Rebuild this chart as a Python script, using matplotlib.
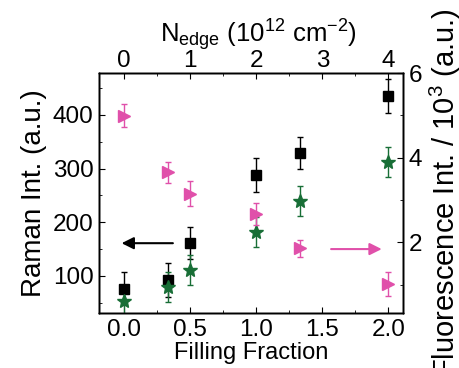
import matplotlib.pyplot as plt
from matplotlib.ticker import MultipleLocator

plt.rcParams['font.family'] = ['Liberation Sans', 'DejaVu Sans']
plt.rcParams['mathtext.fontset'] = 'custom'
plt.rcParams['mathtext.rm'] = 'Liberation Sans'
plt.rcParams['mathtext.it'] = 'Liberation Sans'

# filling fraction (bottom axis); N_edge = 2 * filling fraction
filling = [0.0, 0.333, 0.5, 1.0, 1.333, 2.0]

# Raman intensity (left axis)
raman = [76, 92, 161, 288, 329, 435]
raman_err = [31, 32, 30, 32, 30, 31]
raman2 = [53, 80, 111, 182, 240, 312]
raman2_err = [28, 28, 28, 28, 28, 28]

# fluorescence / 10^3 (right axis)
fluor = [4.99, 3.65, 3.15, 2.66, 1.86, 1.01]
fluor_err = [0.27, 0.25, 0.29, 0.26, 0.2, 0.28]

top_ticks = [0, 1, 2, 3, 4]

pink = '#E050AA'
green = '#186E36'

fig = plt.figure(figsize=(4.59, 3.68), dpi=100)
ax = fig.add_axes([0.2157, 0.1495, 0.6623, 0.6521])

ax.errorbar(filling, raman, yerr=raman_err, fmt='s', color='black', ms=7,
            capsize=2.5, elinewidth=1, capthick=1, zorder=3)
ax.errorbar(filling, raman2, yerr=raman2_err, fmt='*', color=green, ms=10,
            capsize=2.5, elinewidth=1, capthick=1, zorder=3)
ax.set_xlim(-0.19, 2.11)
ax.set_ylim(31, 478)
ax.set_yticks([100, 200, 300, 400])
ax.yaxis.set_minor_locator(MultipleLocator(50))
ax.set_xticks([0.0, 0.5, 1.0, 1.5, 2.0])
ax.xaxis.set_minor_locator(MultipleLocator(0.25))
ax.set_xlabel('Filling Fraction', fontsize=17, labelpad=1)
ax.set_ylabel('Raman Int. (a.u.)', fontsize=20, labelpad=4)
ax.tick_params(which='both', direction='in', labelsize=17.5)
ax.tick_params(which='major', length=4, pad=4)
ax.tick_params(which='minor', length=2)
ax.annotate('', xy=(-0.04, 161), xytext=(0.39, 161),
            arrowprops=dict(arrowstyle='-|>', color='black', lw=1.5,
                            mutation_scale=18))

ax2 = ax.twinx()
ax2.errorbar(filling, fluor, yerr=fluor_err, fmt='>', color=pink, ms=8,
             capsize=2.5, elinewidth=1, capthick=1, zorder=3)
ax2.set_ylim(0.33, 6)
ax2.set_yticks([2, 4, 6])
ax2.yaxis.set_minor_locator(MultipleLocator(1))
ax2.set_ylabel('Fluorescence Int. / 10$^3$ (a.u.)', fontsize=21, labelpad=4)
ax2.tick_params(which='both', direction='in', labelsize=17.5)
ax2.tick_params(which='major', length=4, pad=4)
ax2.tick_params(which='minor', length=2)
ax2.annotate('', xy=(1.97, 1.84), xytext=(1.545, 1.84),
             arrowprops=dict(arrowstyle='-|>', color=pink, lw=1.5,
                             mutation_scale=18))

ax3 = ax.twiny()
ax3.set_xlim(-0.38, 4.22)
ax3.set_xticks(top_ticks)
ax3.xaxis.set_minor_locator(MultipleLocator(0.5))
ax3.set_xlabel('N$_{\\mathrm{edge}}$ (10$^{12}$ cm$^{-2}$)', fontsize=18.5, labelpad=6)
ax3.xaxis.label.set_x(0.526)
ax3.tick_params(which='both', direction='in', labelsize=17.5)
ax3.tick_params(which='major', length=4, pad=0.5)
ax3.tick_params(which='minor', length=2)

for a in (ax, ax2, ax3):
    for s in a.spines.values():
        s.set_linewidth(1)

fig.savefig('out.png', dpi=100)
